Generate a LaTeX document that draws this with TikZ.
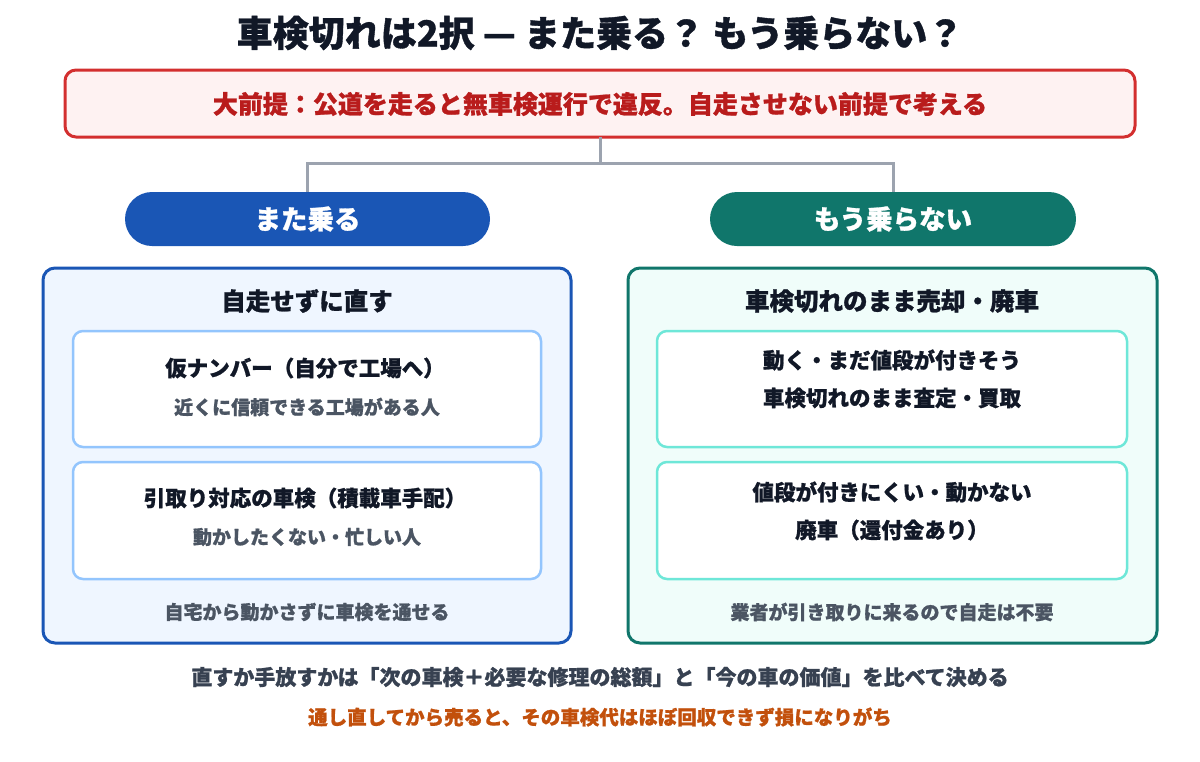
\documentclass[tikz,border=0pt]{standalone}
\usepackage{fontspec}
\setmainfont{Noto Sans CJK JP}[BoldFeatures={FakeBold=1}]
\usetikzlibrary{positioning}
\definecolor{ink}{HTML}{111827}
\definecolor{subg}{HTML}{4B5563}
\definecolor{redb}{HTML}{D32F2F}
\definecolor{redf}{HTML}{FEF2F2}
\definecolor{redt}{HTML}{B91C1C}
\definecolor{conn}{HTML}{9CA3AF}
\definecolor{blueb}{HTML}{1A56B5}
\definecolor{bluef}{HTML}{EFF6FF}
\definecolor{bluei}{HTML}{93C5FD}
\definecolor{teal}{HTML}{10766B}
\definecolor{tealf}{HTML}{F0FDFA}
\definecolor{teali}{HTML}{6EE7D8}
\definecolor{botg}{HTML}{374151}
\definecolor{orng}{HTML}{C2500C}
\tikzset{
  panel/.style={rounded corners=12pt, line width=3pt},
  inner/.style={rounded corners=10pt, line width=2.5pt, fill=white},
  pill/.style={rounded corners=27pt},
  hd/.style={font=\bfseries\fontsize{24.5}{28}\selectfont, text=ink},
  ttl/.style={font=\bfseries\fontsize{21.5}{25}\selectfont, text=ink},
  sub/.style={font=\bfseries\fontsize{19}{23}\selectfont, text=subg},
  pilltext/.style={font=\bfseries\fontsize{26.5}{30}\selectfont, text=white},
  lnk/.style={draw=conn, line width=3pt},
}
\begin{document}
\begin{tikzpicture}[x=1pt,y=-1pt]
\useasboundingbox (0,0) rectangle (1200,761);
% title
\node[font=\bfseries\fontsize{36}{42}\selectfont, text=ink] (title) at (600,33) {車検切れは2択 — また乗る？ もう乗らない？};
% premise box
\draw[rounded corners=11pt, line width=3pt, draw=redb, fill=redf] (65,70) rectangle (1135,137);
\node[font=\bfseries\fontsize{25}{29}\selectfont, text=redt] (prem) at (600,104) {大前提：公道を走ると無車検運行で違反。自走させない前提で考える};
\coordinate (pb) at (600,137);
% pills
\fill[pill, blueb] (125,192) rectangle (490,246);
\node[pilltext] (lp) at (307.5,219) {また乗る};
\fill[pill, teal] (710,192) rectangle (1076,246);
\node[pilltext] (rp) at (893,219) {もう乗らない};
\coordinate (lt) at (307.5,192);
\coordinate (rt) at (893,192);
\draw[lnk] (pb) -- (600,163) -| (lt);
\draw[lnk] (600,163) -| (rt);
% left panel
\draw[panel, draw=blueb, fill=bluef] (43,268) rectangle (571,643);
\node[hd] (lh) at (307,301) {自走せずに直す};
\draw[inner, draw=bluei] (73,331) rectangle (541,447);
\node[ttl] (l1t) at (305,368) {仮ナンバー（自分で工場へ）};
\node[sub] (l1s) at (307,407) {近くに信頼できる工場がある人};
\draw[inner, draw=bluei] (73,462) rectangle (541,579);
\node[ttl] (l2t) at (305,498) {引取り対応の車検（積載車手配）};
\node[sub] (l2s) at (307,537) {動かしたくない・忙しい人};
\node[sub] (lf) at (307,612) {自宅から動かさずに車検を通せる};
% right panel
\draw[panel, draw=teal, fill=tealf] (628,268) rectangle (1157,643);
\node[hd] (rh) at (892,301) {車検切れのまま売却・廃車};
\draw[inner, draw=teali] (657,331) rectangle (1127,447);
\node[ttl] (r1a) at (892,360) {動く・まだ値段が付きそう};
\node[ttl] (r1b) at (892,398) {車検切れのまま査定・買取};
\draw[inner, draw=teali] (657,462) rectangle (1127,579);
\node[ttl] (r2a) at (892,492) {値段が付きにくい・動かない};
\node[ttl] (r2b) at (892,530) {廃車（還付金あり）};
\node[sub] (rf) at (892,612) {業者が引き取りに来るので自走は不要};
% bottom
\node[font=\bfseries\fontsize{21}{25}\selectfont, text=botg] (b1) at (600,677) {直すか手放すかは「次の車検＋必要な修理の総額」と「今の車の価値」を比べて決める};
\node[font=\bfseries\fontsize{19.5}{23}\selectfont, text=orng] (b2) at (600,717) {通し直してから売ると、その車検代はほぼ回収できず損になりがち};
\end{tikzpicture}
\end{document}
